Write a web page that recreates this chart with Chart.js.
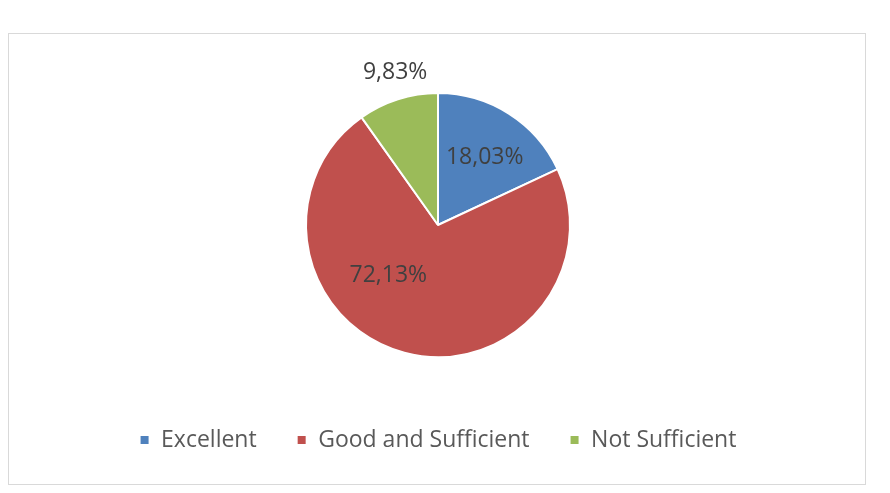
<!DOCTYPE html>
<html>
<head>
<meta charset="utf-8">
<script src="https://cdn.jsdelivr.net/npm/chart.js@4"></script>
<style>
  html, body { margin: 0; padding: 0; background: #ffffff; overflow: hidden; }
  #wrap { position: absolute; left: 0; top: 0; width: 890px; height: 493px; }
</style>
</head>
<body>
<div id="wrap"><canvas id="c" width="890" height="493"></canvas></div>
<script>
// ---- data ----
const categories = ['Excellent', 'Good and Sufficient', 'Not Sufficient'];
const percentages = [18.03, 72.13, 9.83];
const sliceColors = ['#4F81BD', '#C0504D', '#9BBB59'];

// label placement (Excel "best fit" look): angle offset (deg) from slice middle, radius fraction
const labelPlacement = [
  { angleOffset: 2, radiusFrac: 0.625 },
  { angleOffset: 30, radiusFrac: 0.535 },
  { angleOffset: 2, radiusFrac: 1.2 }
];

const frameBorder = {
  id: 'frameBorder',
  beforeDraw(chart) {
    const ctx = chart.ctx;
    ctx.save();
    ctx.fillStyle = '#ffffff';
    ctx.fillRect(0, 0, chart.width, chart.height);
    ctx.strokeStyle = '#d9d9d9';
    ctx.lineWidth = 1;
    ctx.strokeRect(8.5, 33.5, 857, 451);
    ctx.restore();
  }
};

const sliceLabels = {
  id: 'sliceLabels',
  afterDatasetsDraw(chart) {
    const ctx = chart.ctx;
    const meta = chart.getDatasetMeta(0);
    ctx.save();
    ctx.font = '23px "Open Sans"';
    ctx.fillStyle = '#404040';
    ctx.textAlign = 'center';
    ctx.textBaseline = 'middle';
    meta.data.forEach((arc, i) => {
      const p = arc.getProps(['x', 'y', 'startAngle', 'endAngle', 'outerRadius'], true);
      const pl = labelPlacement[i];
      const a = (p.startAngle + p.endAngle) / 2 + pl.angleOffset * Math.PI / 180;
      const r = p.outerRadius * pl.radiusFrac;
      const txt = percentages[i].toFixed(2).replace('.', ',') + '%';
      ctx.fillText(txt, p.x + Math.cos(a) * r, p.y + Math.sin(a) * r);
    });
    ctx.restore();
  }
};

new Chart(document.getElementById('c'), {
  type: 'pie',
  data: {
    labels: categories,
    datasets: [{
      data: percentages,
      backgroundColor: sliceColors,
      borderColor: '#ffffff',
      borderWidth: 2,
      radius: 132,
      clip: false,
      hoverOffset: 0
    }]
  },
  options: {
    responsive: false,
    animation: false,
    events: [],
    layout: { padding: { top: 61.5, bottom: 31.5, left: 0, right: 14 } },
    plugins: {
      tooltip: { enabled: false },
      legend: {
        display: true,
        position: 'bottom',
        labels: {
          boxWidth: 10,
          boxHeight: 10,
          padding: 40,
          color: '#595959',
          font: { family: '"Open Sans"', size: 23 }
        }
      }
    }
  },
  plugins: [frameBorder, sliceLabels]
});
</script>
</body>
</html>
